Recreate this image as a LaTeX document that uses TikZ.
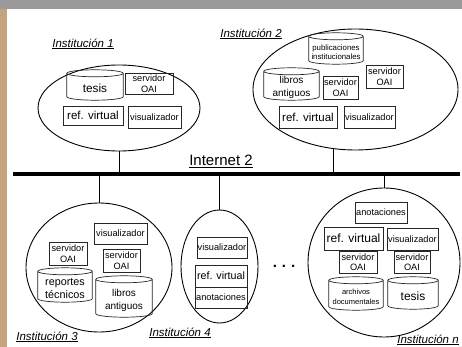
\documentclass[tikz,border=0pt]{standalone}
\usepackage{fontspec}
\setmainfont{Liberation Sans}
\usetikzlibrary{shapes.geometric,calc}
\definecolor{bargray}{HTML}{9A9A9A}
\definecolor{striptan}{HTML}{C4A47C}
\newcommand\fsz[2]{\fontsize{#1}{#2}\selectfont}
\newcommand\cylout[1]{%
  \draw[cylline] let \p1=(#1.north west), \p2=(#1.south east) in
    ({(\x1+\x2)/2},{\y1+3.5pt}) ellipse [x radius={(\x2-\x1)/2}, y radius=3.5pt]
    (\x1,{\y1+3.5pt}) -- (\x1,{\y2+3.5pt})
    arc [start angle=180, end angle=360, x radius={(\x2-\x1)/2}, y radius=3.5pt]
    -- (\x2,{\y1+3.5pt});}
\begin{document}
\begin{tikzpicture}[x=1pt,y=-1pt,
  box/.style={draw=black!85, line width=0.7pt, inner sep=0pt, align=center},
  cylbody/.style={inner sep=0pt, align=center},
  cylline/.style={draw=black!85, line width=0.7pt},
  inst/.style={draw=black, line width=0.9pt, ellipse, inner sep=0pt},
  link/.style={line width=0.9pt},
  bus/.style={line width=4pt},
  instlabel/.style={font=\fsz{11.5}{13}\itshape, inner sep=0pt},
  srv/.style={box, font=\fsz{9.2}{10.5}},
  vis/.style={box, font=\fsz{9.2}{11}},
  ano/.style={box, font=\fsz{9.2}{11}},
]
\useasboundingbox (0,0) rectangle (462,347);
\fill[white] (0,0) rectangle (462,347);
\fill[bargray] (0,0) rectangle (462,9);
\fill[striptan] (0,9) rectangle (7,347);

% ---------- Institucion 1
\node[instlabel] (l1) at (83,44) {\underline{Institución 1}};
\node[inst, minimum width=162pt, minimum height=86pt] (e1) at (119,108) {};
\node[cylbody, minimum width=56pt, minimum height=23pt, font=\fsz{11.8}{13}] (tesis1) at (95,88.5) {tesis};
\cylout{tesis1}
\node[srv, minimum width=48pt, minimum height=21pt] (srv1) at (149,83.5) {servidor\\OAI};
\node[box, minimum width=60pt, minimum height=19pt, font=\fsz{11.5}{13}] (ref1) at (93,115.5) {ref. virtual};
\node[vis, minimum width=53pt, minimum height=22pt] (vis1) at (154.5,117) {visualizador};

% ---------- Institucion 2
\node[instlabel] (l2) at (251,34) {\underline{Institución 2}};
\node[inst, minimum width=205pt, minimum height=121pt] (e2) at (355.5,89.5) {};
\node[cylbody, minimum width=54pt, minimum height=24pt, font=\fsz{7.8}{9}] (pub2) at (336,52) {publicaciones\\institucionales};
\cylout{pub2}
\node[cylbody, minimum width=55pt, minimum height=25pt, font=\fsz{10}{12.5}] (lib2) at (291.5,87.5) {libros\\antiguos};
\cylout{lib2}
\node[srv, minimum width=35pt, minimum height=23pt] (srv2a) at (340.5,87.5) {servidor\\OAI};
\node[srv, minimum width=37pt, minimum height=23pt] (srv2b) at (384.5,76.5) {servidor\\OAI};
\node[box, minimum width=58pt, minimum height=22pt, font=\fsz{11.5}{13}] (ref2) at (308,117) {ref. virtual};
\node[vis, minimum width=51pt, minimum height=22pt] (vis2) at (369.5,117) {visualizador};

% ---------- Internet 2 bus
\node[inner sep=0pt, font=\fsz{15}{17}] (inet) at (221,161) {\underline{Internet 2}};
\coordinate (busW) at (13,174);
\coordinate (busE) at (460,174);
\draw[bus] (busW) -- (busE);

% ---------- Institucion 3
\node[inst, minimum width=146pt, minimum height=129pt] (e3) at (99,267.5) {};
\node[vis, minimum width=53pt, minimum height=21pt] (vis3) at (120.5,233.5) {visualizador};
\node[srv, minimum width=38pt, minimum height=23pt] (srv3a) at (68,253.5) {servidor\\OAI};
\node[srv, minimum width=37pt, minimum height=23pt] (srv3b) at (121.5,260.5) {servidor\\OAI};
\node[cylbody, minimum width=54pt, minimum height=27pt, font=\fsz{10.8}{13}] (rep3) at (65,288.5) {reportes\\técnicos};
\cylout{rep3}
\node[cylbody, minimum width=56pt, minimum height=34pt, font=\fsz{10}{13}] (lib3) at (124,300) {libros\\antiguos};
\cylout{lib3}
\node[instlabel] (l3) at (47,337) {\underline{Institución 3}};

% ---------- Institucion 4
\node[inst, minimum width=77pt, minimum height=113pt] (e4) at (219.5,266.5) {};
\node[vis, minimum width=50pt, minimum height=21pt] (vis4) at (222,247.5) {visualizador};
\node[box, minimum width=52pt, minimum height=22pt, font=\fsz{10.7}{12}] (ref4) at (221,276) {ref. virtual};
\node[ano, minimum width=52pt, minimum height=21pt] (ano4) at (221,297.5) {anotaciones};
\node[instlabel] (l4) at (180,333) {\underline{Institución 4}};

% ---------- dots
\node[inner sep=0pt, font=\fsz{15}{17}\bfseries] (dots) at (284,266) {.\,\,.\,\,.};

% ---------- Institucion n
\node[inst, minimum width=152pt, minimum height=149pt] (en) at (384,262.5) {};
\node[ano, minimum width=52pt, minimum height=21pt] (anon) at (381,212.5) {anotaciones};
\node[box, minimum width=59pt, minimum height=23pt, font=\fsz{12}{13}] (refn) at (353.5,238.5) {ref. virtual};
\node[vis, minimum width=51pt, minimum height=22pt] (visn) at (412.5,239) {visualizador};
\node[srv, minimum width=38pt, minimum height=22pt] (srvna) at (358,262) {servidor\\OAI};
\node[srv, minimum width=36pt, minimum height=22pt] (srvnb) at (412,262) {servidor\\OAI};
\node[cylbody, minimum width=54pt, minimum height=26pt, font=\fsz{7.5}{9.5}] (archn) at (356,297) {archivos\\documentales};
\cylout{archn}
\node[cylbody, minimum width=50pt, minimum height=25pt, font=\fsz{12}{13}] (tesisn) at (413,296.5) {tesis};
\cylout{tesisn}
\node[instlabel] (ln) at (428,340) {\underline{Institución n}};

% ---------- links to the bus
\draw[link] (e1.south) -- (e1.south |- busW);
\draw[link] (e2.250) -- (e2.250 |- busW);
\draw[link] (e3.north) -- (e3.north |- busW);
\draw[link] (e4.north) -- (e4.north |- busW);
\draw[link] (en.north) -- (en.north |- busW);
\end{tikzpicture}
\end{document}
